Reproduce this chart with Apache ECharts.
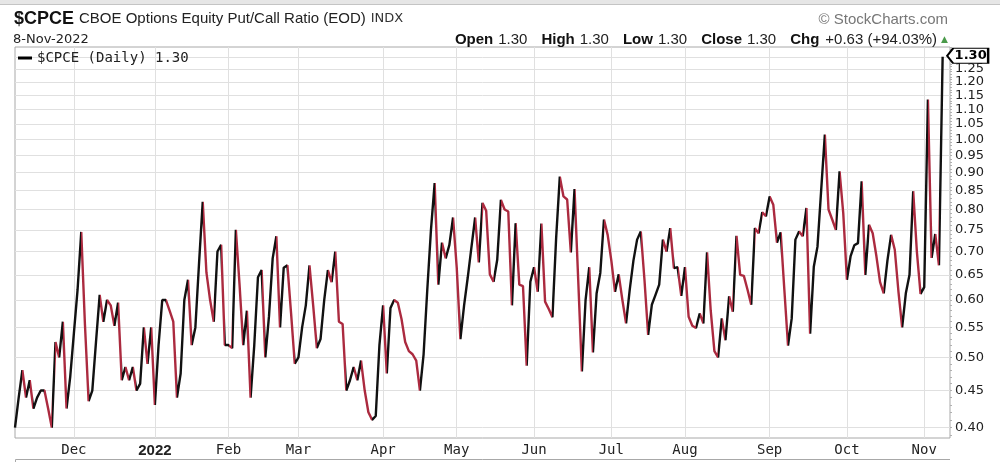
<!DOCTYPE html>
<html>
<head>
<meta charset="utf-8">
<script src="https://cdn.jsdelivr.net/npm/echarts@6/dist/echarts.min.js"></script>
<style>
  html, body { margin: 0; padding: 0; background: #fff; }
  #chart { width: 1000px; height: 462px; }
</style>
</head>
<body>
<div id="chart"></div>
<script>
// exchange holidays inside the window
const holidays = ['2021-11-25', '2021-12-24', '2022-01-17', '2022-02-21', '2022-04-15',
  '2022-05-30', '2022-06-20', '2022-07-04', '2022-09-05'];
const firstDay = '2021-11-08';
const lastDay = '2022-11-10'; // two empty sessions after the last close

// $CPCE daily close, one array per month
const nov21 = [0.40, 0.44, 0.48, 0.44, 0.465, 0.425, 0.44, 0.45, 0.45, 0.425, 0.40, 0.525, 0.50, 0.56, 0.425, 0.47];
const dec21 = [0.54, 0.62, 0.745, 0.555, 0.435, 0.45, 0.525, 0.61, 0.56, 0.60, 0.59, 0.553, 0.595, 0.465, 0.485, 0.465, 0.485, 0.45, 0.46, 0.55, 0.49, 0.55];
const jan22 = [0.43, 0.52, 0.60, 0.60, 0.58, 0.56, 0.44, 0.475, 0.60, 0.64, 0.52, 0.55, 0.675, 0.82, 0.655, 0.60, 0.56, 0.70, 0.715, 0.52];
const feb22 = [0.52, 0.515, 0.75, 0.63, 0.52, 0.58, 0.44, 0.52, 0.645, 0.66, 0.50, 0.57, 0.685, 0.735, 0.55, 0.665, 0.67, 0.575, 0.49];
const mar22 = [0.50, 0.55, 0.59, 0.67, 0.59, 0.515, 0.53, 0.60, 0.66, 0.635, 0.70, 0.56, 0.556, 0.45, 0.465, 0.485, 0.465, 0.495, 0.45, 0.42, 0.41, 0.415, 0.52];
const apr22 = [0.59, 0.475, 0.585, 0.60, 0.595, 0.565, 0.525, 0.51, 0.505, 0.495, 0.45, 0.505, 0.62, 0.75, 0.87, 0.63, 0.72, 0.685, 0.715, 0.78];
const may22 = [0.665, 0.53, 0.59, 0.645, 0.71, 0.78, 0.676, 0.817, 0.797, 0.651, 0.636, 0.682, 0.825, 0.80, 0.795, 0.59, 0.766, 0.63, 0.627, 0.487, 0.636];
const jun22 = [0.666, 0.616, 0.765, 0.597, 0.583, 0.568, 0.73, 0.888, 0.834, 0.826, 0.698, 0.854, 0.64, 0.478, 0.60, 0.666, 0.508, 0.613, 0.654, 0.775, 0.738];
const jul22 = [0.68, 0.616, 0.651, 0.60, 0.557, 0.62, 0.68, 0.727, 0.746, 0.64, 0.537, 0.591, 0.61, 0.63, 0.727, 0.70, 0.754, 0.664, 0.666, 0.608];
const aug22 = [0.666, 0.569, 0.553, 0.549, 0.575, 0.557, 0.698, 0.58, 0.51, 0.50, 0.566, 0.528, 0.607, 0.578, 0.736, 0.65, 0.648, 0.62, 0.591, 0.754, 0.742, 0.793, 0.783];
const sep22 = [0.834, 0.812, 0.72, 0.744, 0.62, 0.519, 0.566, 0.727, 0.746, 0.735, 0.804, 0.539, 0.667, 0.711, 0.85, 1.015, 0.80, 0.775, 0.75, 0.903, 0.791];
const oct22 = [0.64, 0.69, 0.714, 0.719, 0.875, 0.65, 0.762, 0.742, 0.69, 0.635, 0.613, 0.68, 0.738, 0.704, 0.616, 0.55, 0.613, 0.65, 0.848, 0.70, 0.612];
const nov22 = [0.625, 1.135, 0.686, 0.74, 0.67, 1.30];

const yTicks = [0.40, 0.45, 0.50, 0.55, 0.60, 0.65, 0.70, 0.75, 0.80, 0.85, 0.90, 0.95, 1.00, 1.05, 1.10, 1.15, 1.20, 1.25, 1.30];
const yLabels = [0.40, 0.45, 0.50, 0.55, 0.60, 0.65, 0.70, 0.75, 0.80, 0.85, 0.90, 0.95, 1.00, 1.05, 1.10, 1.15, 1.20, 1.25];
const monthNames = ['Jan', 'Feb', 'Mar', 'Apr', 'May', 'Jun', 'Jul', 'Aug', 'Sep', 'Oct', 'Nov', 'Dec'];

const cpce = [].concat(nov21, dec21, jan22, feb22, mar22, apr22, may22, jun22, jul22, aug22, sep22, oct22, nov22);

const upColor = '#111111';
const downColor = '#ab2a3f';

function tradingDays(from, to) {
  const out = [];
  const d = new Date(from + 'T00:00:00Z');
  const end = new Date(to + 'T00:00:00Z');
  while (d <= end) {
    const s = d.toISOString().slice(0, 10);
    const wd = d.getUTCDay();
    if (wd !== 0 && wd !== 6 && holidays.indexOf(s) < 0) out.push(s);
    d.setUTCDate(d.getUTCDate() + 1);
  }
  return out;
}

const dates = tradingDays(firstDay, lastDay);
const monthStart = {};
dates.forEach((d, i) => {
  if (i > 0 && d.slice(5, 7) !== dates[i - 1].slice(5, 7)) monthStart[i] = true;
});
const isMonthStart = (i) => !!monthStart[i];

// black when the close rose, red when it fell
const pieces = [];
for (let i = 0; i < cpce.length - 1; i++) {
  pieces.push({ gte: i, lt: i + 1, color: cpce[i + 1] >= cpce[i] ? upColor : downColor });
}
pieces.push({ gte: cpce.length - 1, lte: dates.length, color: upColor });

const last = cpce[cpce.length - 1];
const prev = cpce[cpce.length - 2];
const chg = last - prev;
const lastDate = dates[cpce.length - 1];
const dateLabel = (+lastDate.slice(8, 10)) + '-' + monthNames[+lastDate.slice(5, 7) - 1] + '-' + lastDate.slice(0, 4);

const minorTicks = [];
for (let k = 39; k <= 134; k++) minorTicks.push(k / 100);

const chart = echarts.init(document.getElementById('chart'));

const options = {
  animation: false,
  backgroundColor: '#fff',
  title: [
    {
      text: '{a|$CPCE} {b|CBOE Options Equity Put/Call Ratio (EOD)} {c|INDX}',
      left: 14, top: 10, padding: 0,
      textStyle: {
        fontWeight: 'normal',
        rich: {
          a: { fontFamily: 'Liberation Sans', fontWeight: 'bold', fontSize: 18, color: '#111' },
          b: { fontFamily: 'Liberation Sans', fontWeight: 'normal', fontSize: 15, color: '#222' },
          c: { fontFamily: 'DejaVu Sans', fontWeight: 'normal', fontSize: 13, color: '#333' }
        }
      }
    },
    {
      text: dateLabel,
      left: 13, top: 33, padding: 0,
      textStyle: { fontFamily: 'DejaVu Sans', fontSize: 13, fontWeight: 'normal', color: '#222' }
    },
    {
      text: '© StockCharts.com',
      right: 52, top: 12, padding: 0,
      textStyle: { fontFamily: 'Liberation Sans', fontSize: 15, fontWeight: 'normal', color: '#777' }
    },
    {
      text: '{l|Open}{v|' + last.toFixed(2) + '}{l|High}{v|' + last.toFixed(2) + '}{l|Low}{v|' + last.toFixed(2) +
        '}{l|Close}{v|' + last.toFixed(2) + '}{l|Chg}{w|+' + chg.toFixed(2) + ' (+' + (chg / prev * 100).toFixed(2) + '%)}{g|▲}',
      right: 52, top: 32, padding: 0,
      textStyle: {
        rich: {
          l: { fontFamily: 'Liberation Sans', fontWeight: 'bold', fontSize: 15, color: '#111' },
          v: { fontFamily: 'Liberation Sans', fontWeight: 'normal', fontSize: 15, color: '#222', padding: [0, 14, 0, 5] },
          w: { fontFamily: 'Liberation Sans', fontWeight: 'normal', fontSize: 15, color: '#222', padding: [0, 4, 0, 6] },
          g: { fontFamily: 'DejaVu Sans', fontWeight: 'normal', fontSize: 9, color: '#4a9a4a' }
        }
      }
    }
  ],
  legend: {
    data: ['$CPCE (Daily)'],
    left: 18, top: 51, padding: 0,
    icon: 'rect', itemWidth: 14, itemHeight: 3,
    selectedMode: false,
    itemStyle: { color: '#000' },
    formatter: (name) => name + ' ' + last.toFixed(2),
    textStyle: { fontFamily: 'DejaVu Sans Mono', fontSize: 14, color: '#222' }
  },
  grid: {
    left: 15, right: 50, top: 47, bottom: 24,
    show: true, borderColor: '#a8a8a8', borderWidth: 1, backgroundColor: '#fff'
  },
  visualMap: {
    show: false, type: 'piecewise', seriesIndex: 0, dimension: 0,
    pieces: pieces, outOfRange: { color: upColor }
  },
  xAxis: {
    type: 'category',
    data: dates,
    boundaryGap: false,
    axisLine: { show: false },
    axisTick: { show: false },
    splitLine: { show: true, interval: isMonthStart, lineStyle: { color: '#e0e0e0', width: 1 } },
    axisLabel: {
      interval: isMonthStart,
      margin: 5,
      fontFamily: 'DejaVu Sans Mono', fontSize: 14, color: '#222',
      formatter: (val) => {
        const m = +val.slice(5, 7);
        return m === 1 ? '{y|' + val.slice(0, 4) + '}' : monthNames[m - 1];
      },
      rich: { y: { fontFamily: 'Liberation Sans', fontWeight: 'bold', fontSize: 15, color: '#222' } }
    }
  },
  yAxis: [
    {
      type: 'log', logBase: 10, position: 'right',
      min: 0.387, max: 1.341,
      axisLine: { show: false },
      axisTick: { show: false, customValues: yTicks },
      splitLine: { show: true, lineStyle: { color: '#e0e0e0', width: 1 } },
      axisLabel: {
        customValues: yLabels,
        formatter: (v) => Number(v).toFixed(2),
        margin: 5,
        hideOverlap: false,
        lineHeight: 11,
        fontFamily: 'DejaVu Sans', fontSize: 13, color: '#222'
      }
    },
    {
      type: 'log', logBase: 10, position: 'right',
      min: 0.387, max: 1.341,
      axisLine: { show: false },
      axisTick: { show: true, customValues: minorTicks, length: 2, lineStyle: { color: '#b0b0b0' } },
      splitLine: { show: false },
      axisLabel: { show: false }
    }
  ],
  series: [
    {
      name: '$CPCE (Daily)',
      type: 'line',
      data: cpce,
      yAxisIndex: 0,
      symbol: 'none',
      showSymbol: false,
      color: upColor,
      lineStyle: { width: 2.4 },
      z: 3,
      markPoint: {
        symbol: 'path://M0,6L6,0L41,0L41,12L6,12Z',
        symbolSize: [41, 15],
        symbolOffset: [25, -1],
        itemStyle: { color: '#fff', borderColor: '#000', borderWidth: 1.5 },
        label: {
          show: true, position: 'inside', offset: [3, 0],
          formatter: (p) => Number(p.value).toFixed(2),
          fontFamily: 'DejaVu Sans', fontWeight: 'bold', fontSize: 13, color: '#000'
        },
        data: [{ coord: [lastDate, last], value: last }]
      }
    }
  ],
  graphic: [
    { type: 'rect', shape: { x: 0, y: 0, width: 1000, height: 4 }, style: { fill: '#e6e6e6' }, silent: true },
    { type: 'line', shape: { x1: 0, y1: 4.5, x2: 1000, y2: 4.5 }, style: { stroke: '#c4c4c4', lineWidth: 1 }, silent: true },
    { type: 'polyline', shape: { points: [[15.5, 462], [15.5, 459.5], [950, 459.5]] }, style: { stroke: '#a8a8a8', lineWidth: 1, fill: null }, silent: true }
  ]
};

chart.setOption(options);
</script>
</body>
</html>
